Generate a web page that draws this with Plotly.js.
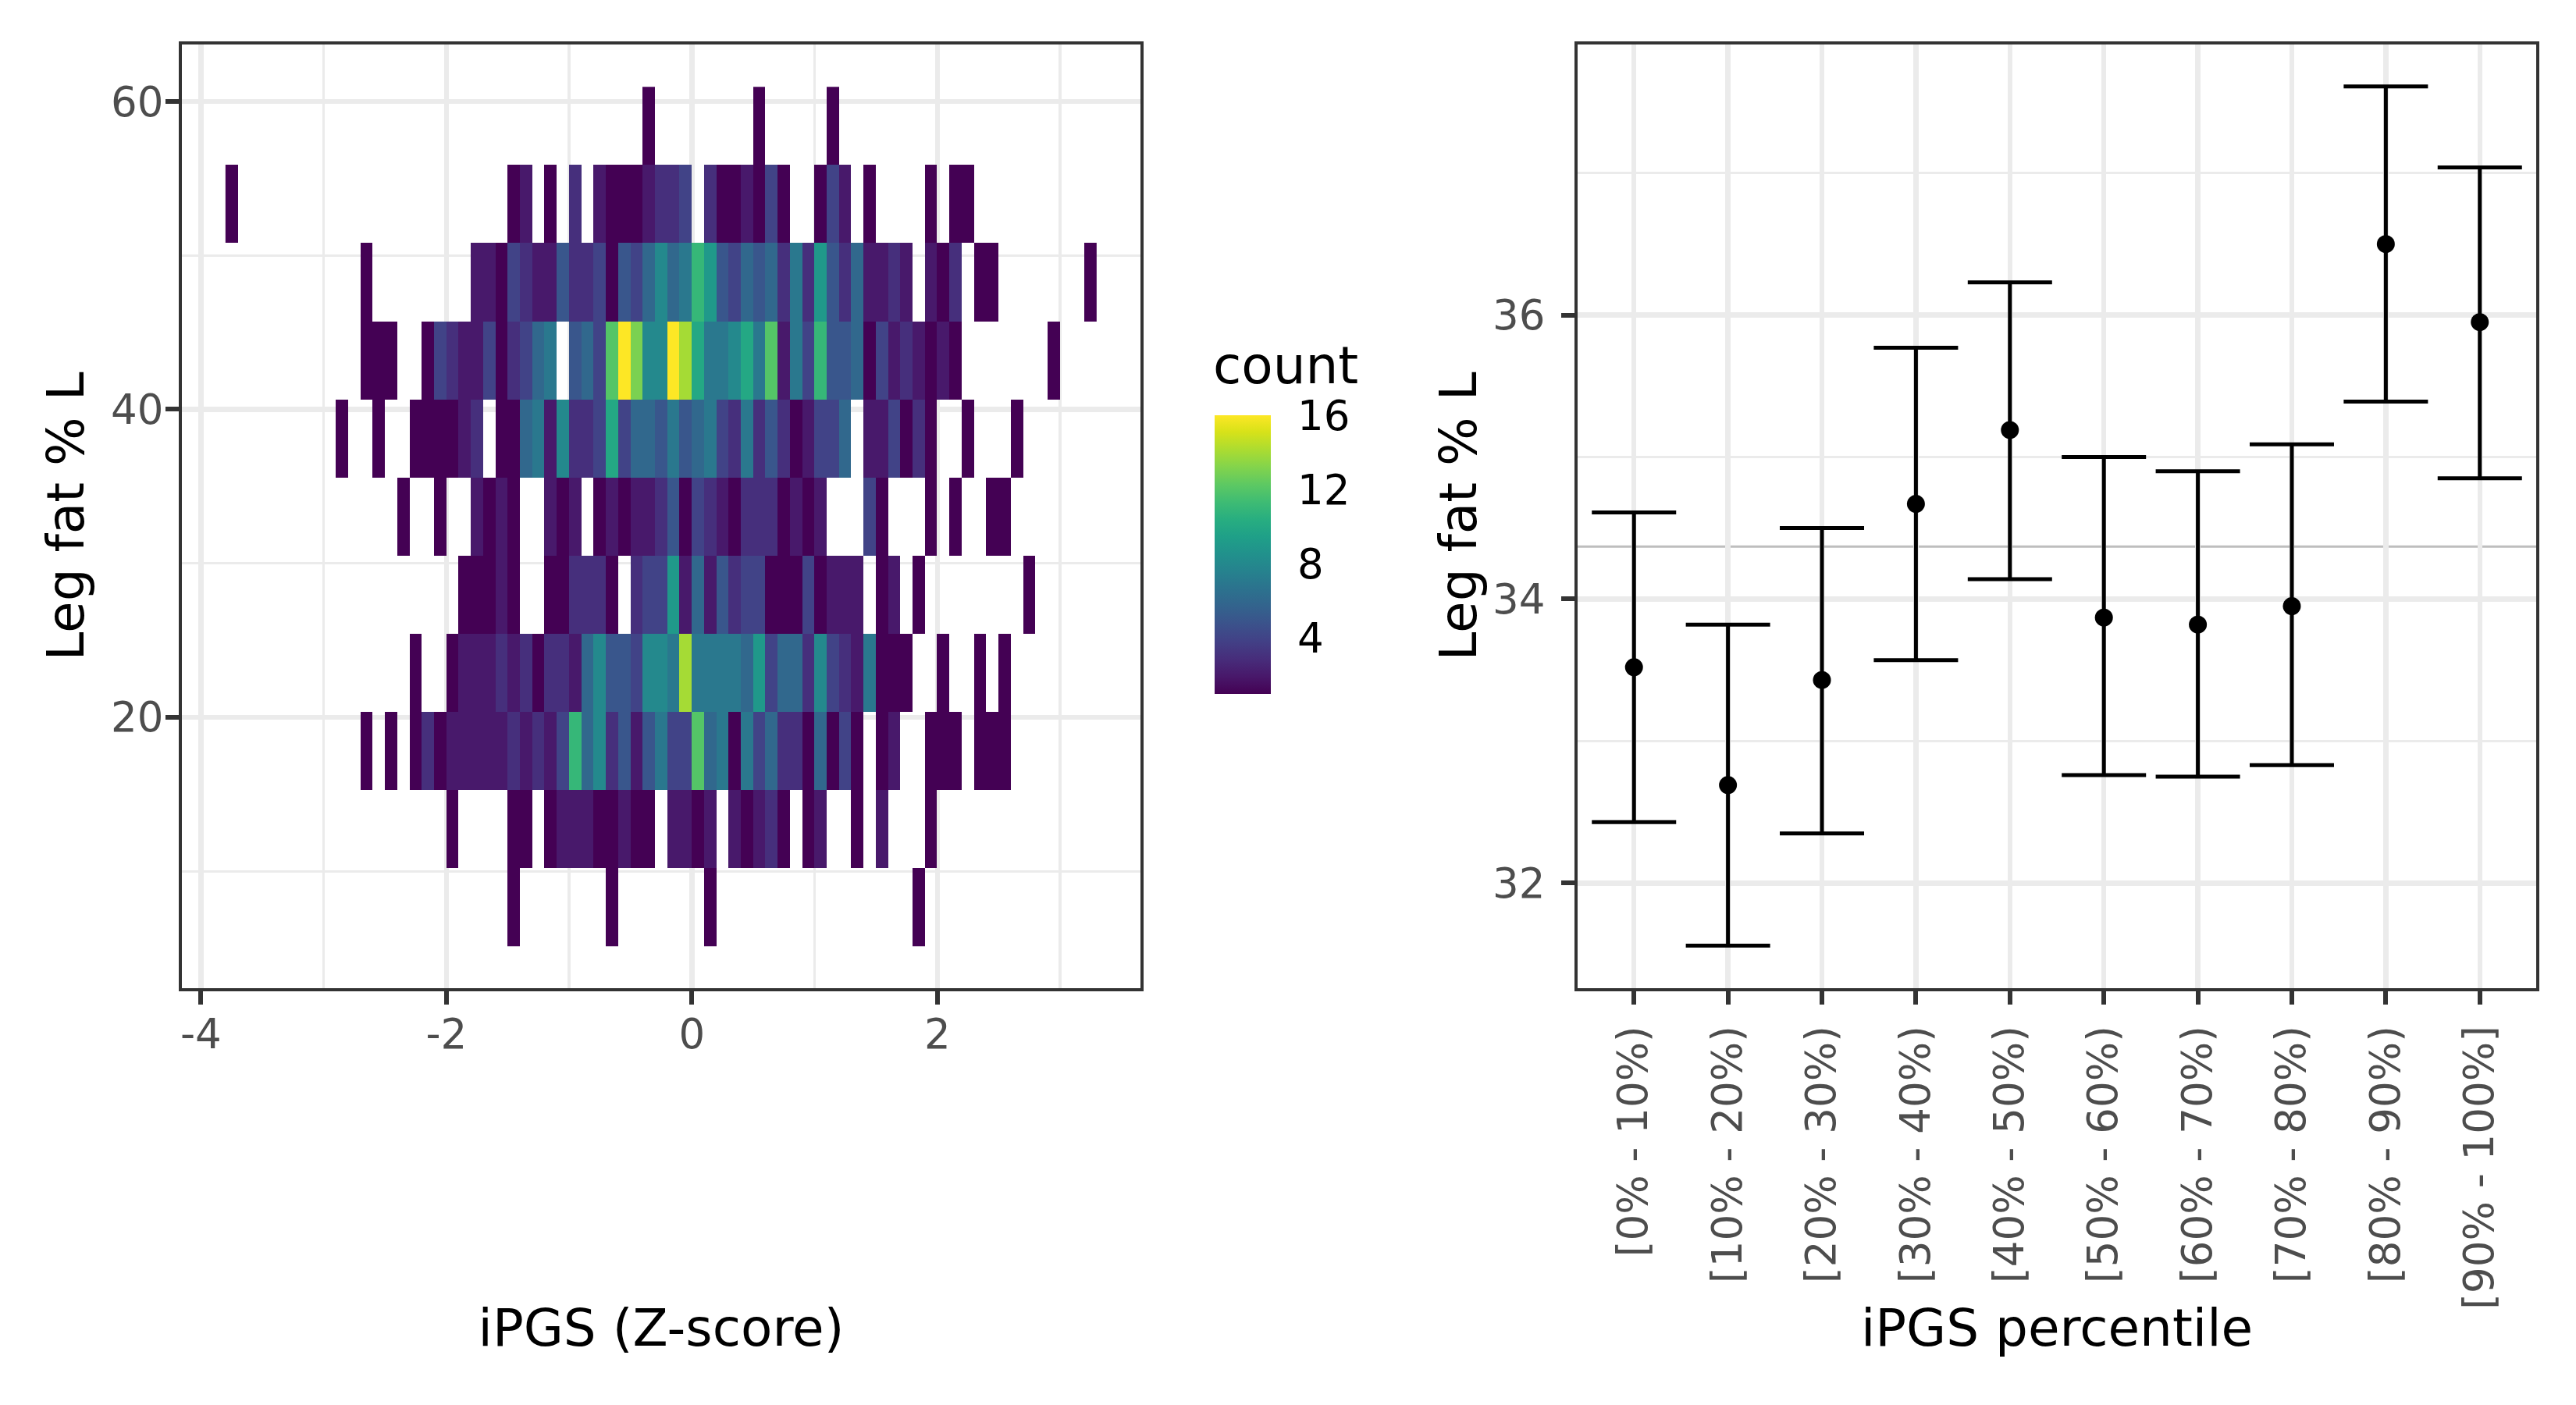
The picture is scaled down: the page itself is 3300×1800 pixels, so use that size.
<!DOCTYPE html>
<html><head><meta charset="utf-8">
<script src="https://cdn.plot.ly/plotly-3.0.1.min.js"></script>
<style>html,body{margin:0;padding:0;background:#fff;} #chart{width:3300px;height:1800px;}</style>
</head><body><div id="chart"></div>
<script>
// ---- Left panel: 2D histogram counts (bins of 0.1 in iPGS, ~5.08 in Leg fat %) ----
// Each row: counts for 71 iPGS bins, first bin centre at -3.75 (0 = empty bin)
const xBinFirstCentre = -3.75, xBinWidth = 0.1;
const yBinFirstCentre = 7.64, yBinWidth = 5.077;
const row_07 = [0,0,0,0,0,0,0,0,0,0, 0,0,0,0,0,0,0,0,0,0, 0,0,0,1,0,0,0,0,0,0, 0,1,0,0,0,0,0,0,0,1, 0,0,0,0,0,0,0,0,0,0, 0,0,0,0,0,0,1,0,0,0, 0,0,0,0,0,0,0,0,0,0, 0];
const row_12 = [0,0,0,0,0,0,0,0,0,0, 0,0,0,0,0,0,0,0,1,0, 0,0,0,1,1,0,1,2,2,2, 1,1,2,1,1,0,2,2,1,2, 0,2,1,2,3,1,0,1,2,0, 0,1,0,2,0,0,0,1,0,0, 0,0,0,0,0,0,0,0,0,0, 0];
const row_17 = [0,0,0,0,0,0,0,0,0,0, 0,1,0,1,0,1,3,1,2,2, 2,2,2,3,2,3,2,4,11,6, 8,3,5,2,5,7,4,4,12,6, 7,1,7,4,6,3,3,1,6,1, 4,1,0,1,2,0,0,1,1,1, 0,1,1,1,0,0,0,0,0,0, 0];
const row_22 = [0,0,0,0,0,0,0,0,0,0, 0,0,0,0,0,1,0,0,1,2, 2,2,3,2,3,1,3,3,2,6, 8,5,5,4,8,8,7,14,7,7, 7,7,6,9,4,6,6,3,8,4, 3,2,7,1,1,1,0,0,1,0, 0,1,0,1,0,0,0,0,0,0, 0];
const row_27 = [0,0,0,0,0,0,0,0,0,0, 0,0,0,0,0,0,0,0,0,1, 1,1,2,1,0,0,1,1,3,3, 3,1,0,3,4,4,9,2,6,2, 5,3,4,4,1,1,1,4,1,2, 2,2,0,1,2,0,1,0,0,0, 0,0,0,0,0,1,0,0,0,0, 0];
const row_33 = [0,0,0,0,0,0,0,0,0,0, 0,0,0,0,1,0,0,1,0,0, 2,1,2,1,0,0,2,1,2,0, 1,2,1,2,2,3,5,1,4,3, 2,1,3,3,3,1,2,1,2,0, 0,0,4,1,0,0,0,1,0,1, 0,0,1,1,0,0,0,0,0,0, 0];
const row_38 = [0,0,0,0,0,0,0,0,0,1, 0,0,1,0,0,1,1,1,1,2, 3,0,1,1,6,7,2,8,3,3, 4,10,4,6,6,5,7,5,6,7, 4,3,7,3,5,3,1,2,4,4, 6,0,2,2,4,1,3,1,0,0, 1,0,0,0,1,0,0,0,0,0, 0];
const row_43 = [0,0,0,0,0,0,0,0,0,0, 0,1,1,1,0,0,1,4,3,2, 2,4,1,3,4,6,7,0,5,6, 4,12,16,13,8,8,16,14,10,7, 7,8,10,7,12,2,7,4,11,5, 5,6,1,4,2,3,2,1,2,1, 0,0,0,0,0,0,0,1,0,0, 0];
const row_48 = [0,0,0,0,0,0,0,0,0,0, 0,1,0,0,0,0,0,0,0,0, 2,2,1,4,3,2,2,5,3,3, 4,1,5,4,6,8,6,7,11,9, 5,4,6,5,6,3,7,3,9,5, 3,6,2,2,3,2,0,2,1,3, 0,1,1,0,0,0,0,0,0,0, 1];
const row_53 = [1,0,0,0,0,0,0,0,0,0, 0,0,0,0,0,0,0,0,0,0, 0,0,0,1,2,0,1,0,3,0, 2,1,1,1,2,3,3,4,0,3, 1,1,2,1,4,1,0,0,1,4, 2,0,1,0,0,0,0,1,0,1, 1,0,0,0,0,0,0,0,0,0, 0];
const row_58 = [0,0,0,0,0,0,0,0,0,0, 0,0,0,0,0,0,0,0,0,0, 0,0,0,0,0,0,0,0,0,0, 0,0,0,0,1,0,0,0,0,0, 0,0,0,1,0,0,0,0,0,1, 0,0,0,0,0,0,0,0,0,0, 0,0,0,0,0,0,0,0,0,0, 0];
const countRows = [row_07,row_12,row_17,row_22,row_27,row_33,row_38,row_43,row_48,row_53,row_58];
const countMin = 1, countMax = 16;
const zTickVals = [-4, -2, 0, 2];
const zTickText = ['-4', '-2', '0', '2'];

// ---- Right panel: mean and 95% interval by iPGS percentile ----
const percentileBins = ["[0% - 10%)","[10% - 20%)","[20% - 30%)","[30% - 40%)","[40% - 50%)","[50% - 60%)","[60% - 70%)","[70% - 80%)","[80% - 90%)","[90% - 100%]"];
const binMean  = [33.52, 32.69, 33.43, 34.67, 35.19, 33.87, 33.82, 33.95, 36.50, 35.95];
const binLower = [32.43, 31.56, 32.35, 33.57, 34.14, 32.76, 32.75, 32.83, 35.39, 34.85];
const binUpper = [34.61, 33.82, 34.50, 35.77, 36.23, 35.00, 34.90, 35.09, 37.61, 37.04];
const overallMean = 34.37;

const W = 3300, H = 1800;
const px = v => v / W, py = v => 1 - v / H;

const z = countRows.map(r => r.map(v => v === 0 ? null : v));

const heat = {
  type: 'heatmap', z: z,
  x0: xBinFirstCentre, dx: xBinWidth, y0: yBinFirstCentre, dy: yBinWidth,
  xaxis: 'x', yaxis: 'y',
  colorscale: 'Viridis', zmin: countMin, zmax: countMax, zsmooth: false,
  hoverongaps: false,
  colorbar: {
    x: px(1556), xanchor: 'left', xpad: 0,
    y: py(889), yanchor: 'bottom', ypad: 0,
    len: (889 - 532) / H, lenmode: 'fraction',
    thickness: 72, outlinewidth: 0,
    tickmode: 'linear', tick0: 0, dtick: 4,
    ticks: 'outside', ticklen: 24, tickcolor: 'rgba(255,255,255,0)', tickwidth: 2,
    tickfont: {size: 53, color: '#000000'}
  }
};

const errs = {
  type: 'scatter', mode: 'markers', x: percentileBins, y: binMean,
  xaxis: 'x2', yaxis: 'y2',
  marker: {color: '#000000', size: 23},
  error_y: {
    type: 'data', symmetric: false,
    array: binUpper.map((u, i) => u - binMean[i]),
    arrayminus: binLower.map((l, i) => binMean[i] - l),
    color: '#000000', thickness: 5, width: 54
  },
  showlegend: false
};

const gridMajor = '#EBEBEB';
const axisCommon = {
  showline: true, mirror: true, linecolor: '#333333', linewidth: 4,
  ticks: 'outside', ticklen: 17, tickwidth: 6, tickcolor: '#333333',
  tickfont: {size: 53, color: '#4D4D4D'}, ticklabelstandoff: 10,
  showgrid: true, gridcolor: gridMajor, gridwidth: 6.5,
  zeroline: false, automargin: false
};

const layout = {
  width: W, height: H,
  margin: {l: 0, r: 0, t: 0, b: 0},
  paper_bgcolor: '#ffffff', plot_bgcolor: '#ffffff',
  font: {family: 'DejaVu Sans', color: '#000000'},
  showlegend: false,
  xaxis: Object.assign({}, axisCommon, {
    domain: [px(233), px(1461)], anchor: 'y',
    range: [-4.155, 3.655], tickmode: 'array', tickvals: zTickVals, ticktext: zTickText,
    ticklabelstandoff: -8,
    minor: {showgrid: true, dtick: 1, tick0: 0, gridcolor: gridMajor, gridwidth: 3.2},
    title: {text: 'iPGS (Z-score)', font: {size: 66}, standoff: 325}
  }),
  yaxis: Object.assign({}, axisCommon, {
    domain: [py(1266), py(57)], anchor: 'x',
    range: [2.4, 63.7], tickmode: 'linear', tick0: 0, dtick: 20,
    ticklabelstandoff: -8,
    minor: {showgrid: true, dtick: 10, tick0: 0, gridcolor: gridMajor, gridwidth: 3.2},
    title: {text: 'Leg fat % L', font: {size: 66}, standoff: 14}
  }),
  xaxis2: Object.assign({}, axisCommon, {
    domain: [px(2021), px(3249)], anchor: 'y2',
    type: 'category', range: [-0.6, 9.6], tickangle: -90,
    ticklabelstandoff: 6,
    title: {text: 'iPGS percentile', font: {size: 66}, standoff: 2}
  }),
  yaxis2: Object.assign({}, axisCommon, {
    domain: [py(1266), py(57)], anchor: 'x2',
    range: [31.26, 37.905], tickmode: 'linear', tick0: 0, dtick: 2,
    minor: {showgrid: true, dtick: 1, tick0: 0, gridcolor: gridMajor, gridwidth: 3.2},
    title: {text: 'Leg fat % L', font: {size: 66}, standoff: 0}
  }),
  shapes: [{
    type: 'line', xref: 'x2 domain', yref: 'y2', x0: 0, x1: 1,
    y0: overallMean, y1: overallMean, layer: 'below',
    line: {color: '#BEBEBE', width: 3}
  }],
  annotations: [{
    text: 'count', xref: 'paper', yref: 'paper',
    x: px(1552), xanchor: 'left', y: py(468), yanchor: 'middle',
    showarrow: false, font: {size: 66, color: '#000000'}
  }]
};

Plotly.newPlot('chart', [heat, errs], layout, {staticPlot: true});
</script></body></html>
